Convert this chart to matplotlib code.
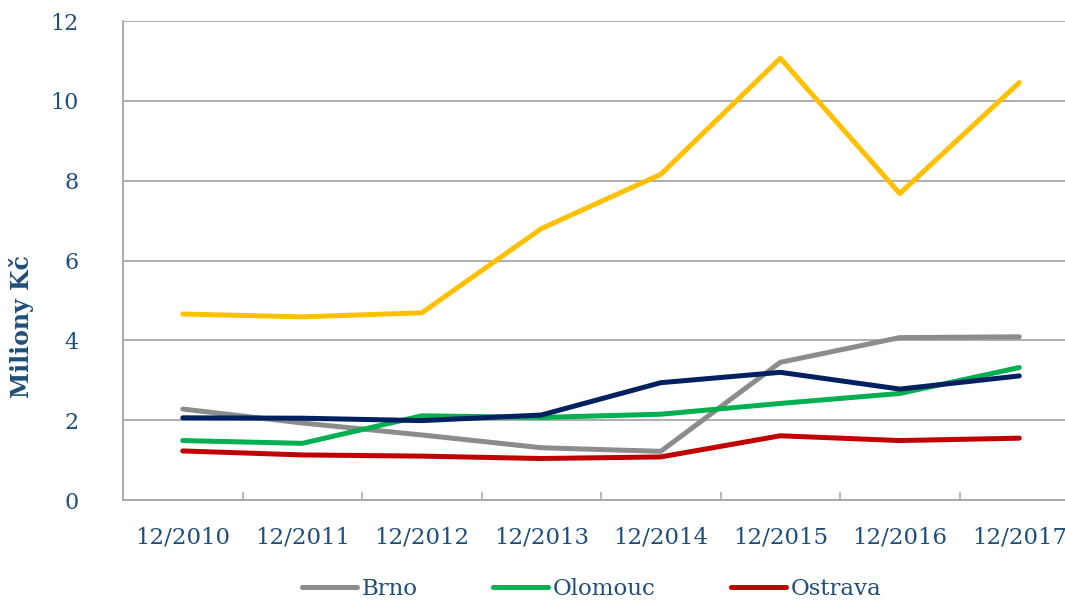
import matplotlib.pyplot as plt
import numpy as np

categories = ['12/2010', '12/2011', '12/2012', '12/2013', '12/2014', '12/2015', '12/2016', '12/2017']
brno = [2.28, 1.93, 1.63, 1.31, 1.22, 3.45, 4.07, 4.09]
olomouc = [1.49, 1.42, 2.11, 2.07, 2.15, 2.42, 2.67, 3.32]
ostrava = [1.23, 1.13, 1.10, 1.04, 1.08, 1.61, 1.49, 1.55]
navy_series = [2.06, 2.05, 1.99, 2.13, 2.94, 3.20, 2.78, 3.11]
yellow_series = [4.66, 4.59, 4.69, 6.80, 8.16, 11.07, 7.68, 10.46]
y_ticks = [0, 2, 4, 6, 8, 10, 12]

TEXT = '#1F4E79'
GRID = '#A6A6A6'


def main():
    plt.rcParams['font.family'] = ['DejaVu Serif']
    fig = plt.figure(figsize=(10.65, 6.02), dpi=100)
    ax = fig.add_axes([0.1155, 0.1694, 0.8977, 0.7955])

    x = np.arange(len(categories))
    lw = 3.6
    ax.plot(x, brno, color='#8C8C8C', lw=lw, solid_capstyle='round', label='Brno')
    ax.plot(x, olomouc, color='#00B050', lw=lw, solid_capstyle='round', label='Olomouc')
    ax.plot(x, ostrava, color='#C00000', lw=lw, solid_capstyle='round', label='Ostrava')
    ax.plot(x, navy_series, color='#002060', lw=lw, solid_capstyle='round')
    ax.plot(x, yellow_series, color='#FFC000', lw=lw, solid_capstyle='round')

    ax.set_xlim(-0.5, len(categories) - 0.5)
    ax.set_ylim(0, 12)
    ax.set_yticks(y_ticks)
    ax.set_yticklabels([str(v) for v in y_ticks])
    ax.set_xticks(x)
    ax.set_xticklabels(categories)
    ax.set_xticks(np.arange(0.5, len(categories) - 0.5), minor=True)

    ax.grid(axis='y', color=GRID, lw=1.3)
    ax.set_axisbelow(True)
    for s in ['top', 'right']:
        ax.spines[s].set_visible(False)
    for s in ['left', 'bottom']:
        ax.spines[s].set_color(GRID)
        ax.spines[s].set_linewidth(1.3)

    ax.tick_params(axis='x', which='major', length=0, pad=19, labelsize=16.5, labelcolor=TEXT)
    ax.tick_params(axis='x', which='minor', direction='in', length=6, width=1.1, color=GRID)
    ax.tick_params(axis='y', length=0, pad=32, labelsize=16, labelcolor=TEXT)

    ax.set_ylabel('Miliony Kč', fontsize=17, fontweight='bold', color=TEXT, va='center')
    ax.yaxis.set_label_coords(-0.106, 0.363)

    leg = fig.legend(loc='center', bbox_to_anchor=(592 / 1065, 1 - 589 / 602), ncol=3,
                     frameon=False, fontsize=16.5, handlelength=2.4, columnspacing=3.3,
                     handletextpad=0.2)
    for t in leg.get_texts():
        t.set_color(TEXT)

    fig.savefig('out.png', dpi=100)


if __name__ == '__main__':
    main()
